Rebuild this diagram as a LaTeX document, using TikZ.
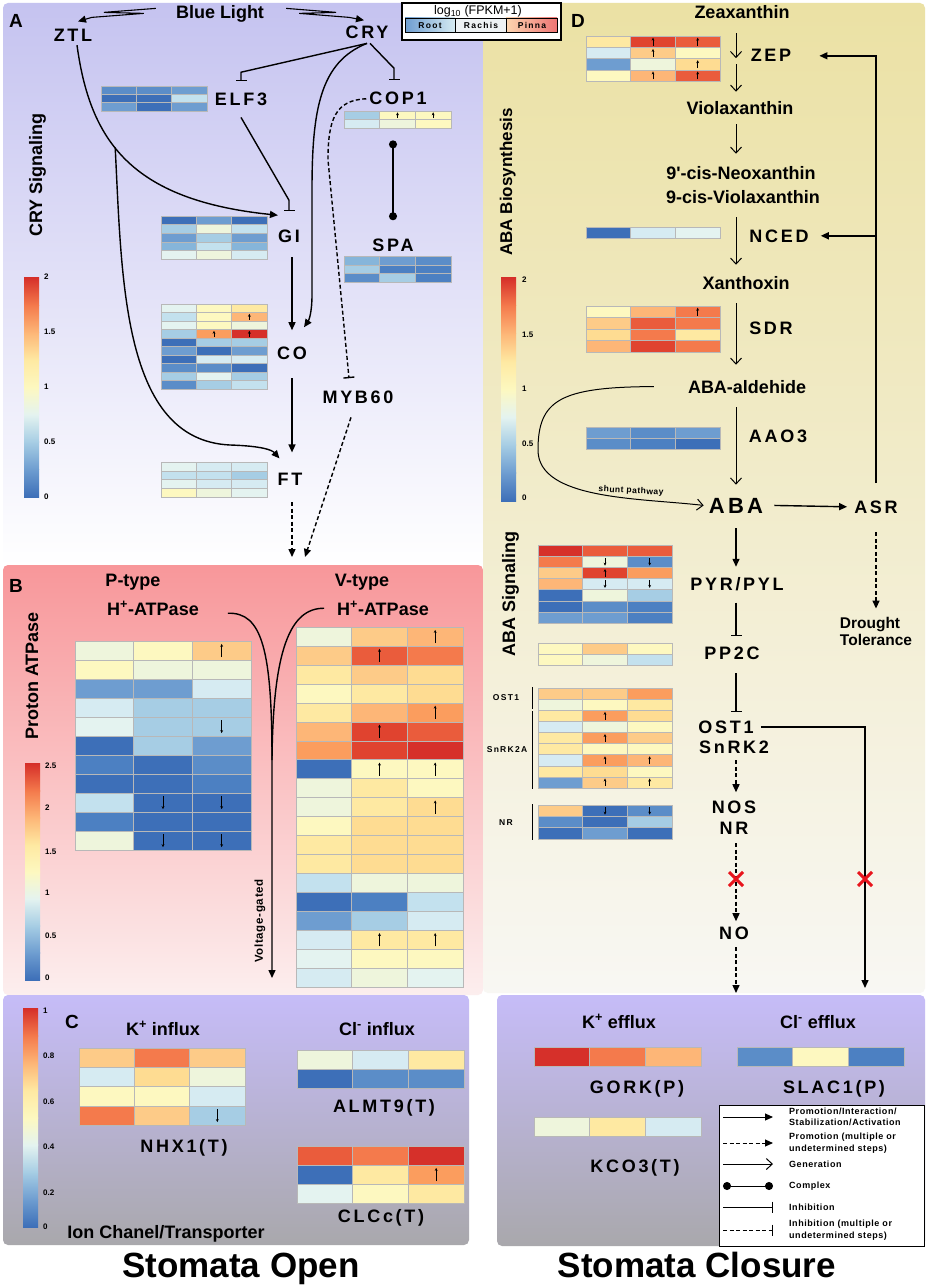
\documentclass[tikz,border=0pt]{standalone}
\usepackage{fontspec}
\setmainfont{Liberation Sans}
\newfontfamily\genefont[LetterSpace=15]{Liberation Sans}
\newfontfamily\smallfont[LetterSpace=6]{Liberation Sans}
\usetikzlibrary{arrows.meta}

% heatmap palette
\definecolor{bu9}{HTML}{3D6FB8}
\definecolor{bu8}{HTML}{4C80C2}
\definecolor{bu7}{HTML}{5B8DC8}
\definecolor{bu6}{HTML}{6E9DD0}
\definecolor{bu5}{HTML}{86B5DA}
\definecolor{bu4}{HTML}{A6CDE4}
\definecolor{bu3}{HTML}{C3E1EE}
\definecolor{bu2}{HTML}{D6EBF2}
\definecolor{bu1}{HTML}{E4F3F0}
\definecolor{pg}{HTML}{EEF5DC}
\definecolor{yl1}{HTML}{FDF8C0}
\definecolor{yl2}{HTML}{FEE9A2}
\definecolor{yl3}{HTML}{FEDC92}
\definecolor{or1}{HTML}{FDCB88}
\definecolor{or2}{HTML}{FDB677}
\definecolor{or3}{HTML}{FB9D5E}
\definecolor{or4}{HTML}{F47A4C}
\definecolor{rd1}{HTML}{EA5C3C}
\definecolor{rd2}{HTML}{E0432F}
\definecolor{rd3}{HTML}{D6302A}
% panel colours
\definecolor{lavA}{HTML}{C5C3F0}
\definecolor{pinkB}{HTML}{F8979A}
\definecolor{pinkBlow}{HTML}{FCEEEE}
\definecolor{yelD}{HTML}{EBE1A4}
\definecolor{yelDlow}{HTML}{F8F7F3}
\definecolor{lavC}{HTML}{C6BCF8}
\definecolor{grayC}{HTML}{A9A8AC}
\definecolor{gridgray}{HTML}{B8B8B8}
\definecolor{crossred}{HTML}{E8141C}
\definecolor{rachis}{HTML}{EEF2F4}
\definecolor{pinnal}{HTML}{FDD6B0}
\definecolor{pinnar}{HTML}{EE7474}

\tikzset{
  gene/.style={font=\genefont\bfseries\fontsize{18}{20}\selectfont, inner sep=0pt, anchor=base},
  txt/.style={font=\bfseries\fontsize{18}{20}\selectfont, inner sep=0pt, anchor=base},
  panelletter/.style={font=\bfseries\fontsize{19}{21}\selectfont, inner sep=0pt, anchor=base},
  ticktxt/.style={font=\bfseries\fontsize{8}{9}\selectfont, inner sep=0pt, anchor=west},
  keytxt/.style={font=\genefont\bfseries\fontsize{8.5}{9}\selectfont, inner sep=0pt, anchor=base},
  legtxt/.style={font=\smallfont\bfseries\fontsize{9}{11.5}\selectfont, inner sep=0pt, anchor=west, align=left},
  promo/.style={-{Triangle[length=8pt,width=7pt]}, line width=1.4pt},
  promodash/.style={promo, dash pattern=on 4pt off 2.5pt},
  gen/.style={-{Straight Barb[length=6pt,width=11pt]}, line width=1pt},
  inhib/.style={-{Bar[width=11pt]}, line width=1.4pt},
  inhibdash/.style={inhib, dash pattern=on 4pt off 2.5pt},
  complex/.style={{Circle[length=8pt]}-{Circle[length=8pt]}, line width=1.4pt},
  redx/.style={draw=crossred, line width=3pt},
  cellgrid/.style={draw=gridgray, line width=0.4pt},
  cellup/.style={-{Stealth[length=3pt,width=2.8pt]}, line width=0.6pt},
  celldn/.style={{Stealth[length=3pt,width=2.8pt]}-, line width=0.6pt},
}

% x, y, width, row height, rows of colour/mark
\newcommand{\heatmap}[5]{%
  \foreach \hrow [count=\i from 0] in {#5} {%
    \foreach \cellc/\cella [count=\j from 0] in \hrow {%
      \filldraw[cellgrid, fill=\cellc] ({#1+\j*#3/3},{#2+\i*#4}) rectangle ++({#3/3},{#4});
      \if u\cella \draw[cellup] ({#1+(\j+0.5)*#3/3},{#2+(\i+0.85)*#4}) -- ++(0,{-0.7*#4}); \fi
      \if d\cella \draw[celldn] ({#1+(\j+0.5)*#3/3},{#2+(\i+0.85)*#4}) -- ++(0,{-0.7*#4}); \fi
    }%
  }%
}
% x, y top, y bottom
\newcommand{\heatbar}[3]{%
  \foreach \ca/\cb [count=\k from 0] in {bu9/bu6,bu6/bu4,bu4/bu1,bu1/yl1,yl1/yl2,yl2/or2,or2/or4,or4/rd3} {%
    \shade[bottom color=\ca, top color=\cb] (#1,{#3-\k*(#3-#2)/8}) rectangle (#1+15,{#3-(\k+1)*(#3-#2)/8-0.3});
  }%
}

\begin{document}
\begin{tikzpicture}[x=1pt, y=-1pt]
	\useasboundingbox (0,0) rectangle (927,1287);
	\fill[white] (0,0) rectangle (927,1287);
	% panels
	\shade[top color=lavA, bottom color=white, rounded corners=5pt] (3,3) rectangle (483,566);
	\shade[top color=pinkB, bottom color=pinkBlow, rounded corners=5pt] (3,565) rectangle (483,995);
	\shade[top color=yelD, bottom color=yelDlow, rounded corners=5pt] (483,3) rectangle (925,993);
	\shade[top color=lavC, bottom color=grayC, rounded corners=5pt] (3,995) rectangle (469,1245);
	\shade[top color=lavC, bottom color=grayC, rounded corners=5pt] (497,995) rectangle (925,1246);

	% A: CRY signaling
	\node[panelletter] (lettera) at (16,28) {A};
	\node[txt] (bluelight) at (220,19) {Blue Light};
	\node[gene] (ztl) at (73,42) {ZTL};
	\node[gene] (cry) at (367,39) {CRY};
	\node[gene] (elf3) at (241,106) {ELF3};
	\node[gene] (cop1) at (398,105) {COP1};
	\node[gene] (gi) at (289,242) {GI};
	\node[gene] (spa) at (393,251) {SPA};
	\node[gene] (co) at (292,359) {CO};
	\node[gene] (myb60) at (358,403) {MYB60};
	\node[gene] (ft) at (290,485) {FT};
	\node[txt, rotate=90] (crysig) at (42,175) {CRY Signaling};
	\heatmap{101}{86}{106}{8.33}{{bu7/n,bu7/n,bu6/n},{bu9/n,bu9/n,bu3/n},{bu6/n,bu9/n,bu6/n}}
	\heatmap{161}{216}{106}{8.6}{{bu9/n,bu6/n,bu9/n},{bu4/n,pg/n,bu3/n},{bu6/n,bu4/n,bu6/n},{bu5/n,bu3/n,bu5/n},{bu1/n,pg/n,bu2/n}}
	\heatmap{344}{111}{107}{8.5}{{bu4/n,yl1/u,yl1/u},{bu2/n,pg/n,yl1/n}}
	\heatmap{344}{256}{107}{8.7}{{bu5/n,bu6/n,bu7/n},{bu4/n,bu8/n,bu8/n},{bu7/n,bu4/n,bu8/n}}
	\heatmap{161}{304}{106}{8.5}{{bu1/n,yl1/n,yl2/n},{bu3/n,yl1/n,or2/u},{bu1/n,yl1/n,pg/n},{bu4/n,or3/u,rd3/u},{bu9/n,bu4/n,bu4/n},{bu6/n,bu9/n,bu6/n},{bu9/n,bu2/n,bu2/n},{bu7/n,bu7/n,bu9/n},{bu4/n,bu1/n,bu4/n},{bu7/n,bu4/n,bu3/n}}
	\heatmap{161}{462}{106}{8.75}{{bu1/n,bu2/n,bu2/n},{bu3/n,bu3/n,bu4/n},{bu1/n,bu2/n,bu2/n},{yl1/n,pg/n,bu1/n}}
	\heatbar{24}{278}{497}
	\foreach \v/\yy [count=\k] in {2/277,1.5/332,1/387,0.5/442,0/497}
		\node[ticktxt] (tka\k) at (44,\yy) {\v};
	\draw[promo, line width=1.1pt] ([xshift=-20pt,yshift=6pt]bluelight.west) -- ++(-52,4) -- ++(40,1) -- ++(-52,4) -- ([xshift=5pt,yshift=8pt]ztl.north);
	\draw[promo, line width=1.1pt] ([xshift=22pt,yshift=6pt]bluelight.east) -- ++(50,4) -- ++(-37,1) -- ++(50,4) -- ([xshift=-3pt,yshift=6pt]cry.north);
	\draw[inhib] ([yshift=-4pt]cry.south) -- ([yshift=21pt]elf3.north) -- ([yshift=12pt]elf3.north);
	\draw[inhib] ([xshift=3pt,yshift=-4pt]cry.south) -- ([xshift=-4pt,yshift=24pt]cop1.north) -- ([xshift=-4pt,yshift=12pt]cop1.north);
	\draw[promo] ([yshift=-4pt]cry.south) .. controls (320,62) and (312,110) .. (312,190) -- (312,295) .. controls (312,312) and (309,320) .. ([xshift=12pt,yshift=19pt]co.north);
	\draw[promo] ([xshift=4pt,yshift=-3pt]ztl.south) .. controls (90,140) and (130,200) .. coordinate[pos=0.43] (ztlsplit) ([yshift=14pt]gi.north west);
	\draw[promo] (ztlsplit) .. controls (122,280) and (122,440) .. (230,445) .. controls (262,446) and (272,450) .. ([xshift=2pt,yshift=14pt]ft.north west);
	\draw[inhib] ([yshift=-11pt]elf3.south) -- ([yshift=29pt]gi.north) -- ([yshift=18pt]gi.north);
	\draw[promo, shorten <=15pt, shorten >=16pt] (co.north |- gi.south) -- (co.north);
	\draw[promo, shorten <=19pt, shorten >=20pt] (co.south) -- (co.south |- ft.north);
	\draw[complex, shorten <=35pt, shorten >=18pt] (spa.north |- cop1.south) -- (spa.north);
	\draw[inhibdash] ([xshift=-3pt]cop1.west) .. controls (335,100) and (328,120) .. (328,160) -- ([xshift=-9pt,yshift=12pt]myb60.north);
	\coordinate (ftend) at (292,557);
	\coordinate (mybend) at (305,557);
	\draw[promodash, shorten <=17pt] (co.south |- ft.south) -- (ftend);
	\draw[promodash] ([xshift=-7pt,yshift=-14pt]myb60.south) -- (mybend);

	% B: proton ATPase
	\node[panelletter] (letterb) at (16,592) {B};
	\node[txt] (ptype) at (133,586) {P-type};
	\node[txt] (ph) at (153,615) {H\textsuperscript{+}-ATPase};
	\node[txt] (vtype) at (362,586) {V-type};
	\node[txt] (vh) at (383,615) {H\textsuperscript{+}-ATPase};
	\node[txt, rotate=90] (protonatp) at (38,676) {Proton ATPase};
	\node[font=\smallfont\bfseries\fontsize{11.5}{12}\selectfont, inner sep=0pt, rotate=90] (voltage) at (260,921) {Voltage-gated};
	\heatmap{75}{641}{176}{19}{{pg/n,yl1/n,or1/u},{yl1/n,pg/n,pg/n},{bu6/n,bu6/n,bu2/n},{bu2/n,bu4/n,bu4/n},{bu1/n,bu4/n,bu4/d},{bu9/n,bu4/n,bu6/n},{bu8/n,bu9/n,bu7/n},{bu9/n,bu9/n,bu8/n},{bu3/n,bu9/d,bu9/d},{bu8/n,bu9/n,bu9/n},{pg/n,bu9/d,bu9/d}}
	\heatmap{296}{627}{167}{18.95}{{pg/n,or1/n,or2/u},{or1/n,rd1/u,or4/n},{yl2/n,or1/n,yl3/n},{yl1/n,yl2/n,yl3/n},{yl2/n,or2/n,or3/u},{or2/n,rd2/u,rd1/n},{or3/n,rd2/n,rd3/n},{bu9/n,yl1/u,yl1/u},{pg/n,yl2/n,yl1/n},{pg/n,yl2/n,yl3/u},{yl1/n,yl3/n,yl3/n},{yl2/n,yl3/n,yl3/n},{yl2/n,yl3/n,yl3/n},{bu3/n,pg/n,pg/n},{bu9/n,bu8/n,bu3/n},{bu6/n,bu4/n,bu2/n},{bu2/n,yl2/u,yl2/u},{bu1/n,yl1/n,yl1/n},{bu2/n,pg/n,bu1/n}}
	\heatbar{25}{764}{980}
	\foreach \v/\yy [count=\k] in {2.5/766,2/808,1.5/852,1/893,0.5/936,0/978}
		\node[ticktxt] (tkb\k) at (45,\yy) {\v};
	\coordinate (vgend) at (272,978);
	\draw[promo] ([xshift=29pt,yshift=-5pt]ph.east) .. controls (262,612) and (272,650) .. (272,760) -- (vgend);
	\draw[line width=1.4pt] ([xshift=-13pt]vh.west) .. controls (290,608) and (273,650) .. (272,760);

	% C: ion channels, stomata open
	\node[panelletter] (letterc) at (72,1028) {C};
	\node[txt] (kin) at (163,1035) {K\textsuperscript{+} influx};
	\node[txt] (clin) at (377,1035) {Cl\textsuperscript{-} influx};
	\node[gene] (nhx1) at (184,1152) {NHX1(T)};
	\node[gene] (almt9) at (384,1112) {ALMT9(T)};
	\node[gene] (clcc) at (381,1222) {CLCc(T)};
	\node[txt] (ionch) at (166,1238) {Ion Chanel/Transporter};
	\heatmap{79}{1048}{166}{19.25}{{or1/n,or4/n,or1/n},{bu2/n,yl3/n,pg/n},{yl1/n,yl1/n,bu2/n},{or4/n,or1/n,bu4/d}}
	\heatmap{297}{1050}{167}{19}{{pg/n,bu2/n,yl2/n},{bu9/n,bu7/n,bu7/n}}
	\heatmap{297}{1146}{167}{19}{{rd1/n,or4/n,rd3/n},{bu9/n,yl2/n,or3/u},{bu1/n,yl1/n,yl2/n}}
	\heatbar{23}{1009}{1227}
	\foreach \v/\yy [count=\k] in {1/1011,0.8/1056,0.6/1102,0.4/1147,0.2/1193,0/1227}
		\node[ticktxt] (tkc\k) at (43,\yy) {\v};
	\node[txt, font=\bfseries\fontsize{35}{40}\selectfont] (stopen) at (241,1277) {Stomata Open};

	% D: ABA biosynthesis and signaling
	\node[panelletter] (letterd) at (578,28) {D};
	\node[txt] (zea) at (742,19) {Zeaxanthin};
	\node[txt] (viola) at (740,115) {Violaxanthin};
	\node[txt] (neo) at (741,179) {9\textquotesingle-cis-Neoxanthin};
	\node[txt] (violb) at (743,203) {9-cis-Violaxanthin};
	\node[txt] (xanth) at (746,289) {Xanthoxin};
	\node[txt] (abaald) at (747,393) {ABA-aldehide};
	\node[gene] (zep) at (771,62) {ZEP};
	\node[gene] (nced) at (779,242) {NCED};
	\node[gene] (sdr) at (771,334) {SDR};
	\node[gene] (aao3) at (778,442) {AAO3};
	\node[gene, font=\genefont\bfseries\fontsize{22}{24}\selectfont] (aba) at (736,513) {ABA};
	\node[gene] (asr) at (876,513) {ASR};
	\node[txt, font=\bfseries\fontsize{15.5}{17}\selectfont] (drought) at (870,628) {Drought};
	\node[txt, font=\bfseries\fontsize{15.5}{17}\selectfont] (toler) at (876,645) {Tolerance};
	\node[gene] (pyr) at (737,590) {PYR/PYL};
	\node[gene] (pp2c) at (732,659) {PP2C};
	\node[gene] (ost1) at (726,733) {OST1};
	\node[gene] (snrk2) at (734,753) {SnRK2};
	\node[gene] (nos) at (734,813) {NOS};
	\node[gene] (nr) at (734,834) {NR};
	\node[gene] (no) at (734,939) {NO};
	\node[txt, rotate=90, font=\bfseries\fontsize{17}{19}\selectfont] (ababio) at (512,182) {ABA Biosynthesis};
	\node[txt, rotate=90] (abasig) at (515,594) {ABA Signaling};
	\node[font=\smallfont\bfseries\fontsize{8.5}{9}\selectfont, inner sep=0pt, rotate=-3] (shunt) at (631,491) {shunt pathway};
	\node[keytxt] (kost1) at (506,700) {OST1};
	\node[keytxt] (ksnrk) at (507,752) {SnRK2A};
	\node[keytxt] (knr) at (506,825) {NR};
	\heatmap{586}{36}{134}{11.25}{{yl2/n,rd2/u,rd1/u},{bu2/n,or1/u,yl1/n},{bu6/n,pg/n,yl3/u},{yl1/n,or2/u,rd1/u}}
	\heatmap{586}{227}{134}{11}{{bu9/n,bu2/n,bu1/n}}
	\heatmap{586}{306}{134}{11.5}{{yl1/n,or2/n,or4/u},{or1/n,rd1/n,or4/n},{yl3/n,or4/n,yl2/n},{or2/n,rd2/n,or4/n}}
	\heatmap{586}{427}{134}{11}{{bu6/n,bu7/n,bu6/n},{bu7/n,bu8/n,bu9/n}}
	\heatmap{538}{545}{134}{11.14}{{rd3/n,rd1/n,rd1/n},{or4/n,pg/d,bu7/d},{or1/n,rd2/u,or3/n},{or2/n,bu2/d,bu2/d},{bu9/n,pg/n,bu4/n},{bu9/n,bu7/n,bu8/n},{bu6/n,bu6/n,bu8/n}}
	\heatmap{538}{643}{134}{11}{{yl1/n,or1/n,yl1/n},{yl1/n,pg/n,bu3/n}}
	\heatmap{538}{688}{134}{11.1}{{or1/n,or1/n,or3/n},{pg/n,yl1/n,yl2/n},{yl2/n,or3/u,yl3/n},{bu2/n,pg/n,yl1/n},{yl2/n,or3/u,or1/n},{yl2/n,yl1/n,yl1/n},{bu2/n,or3/u,or2/u},{yl2/n,yl3/n,yl1/n},{bu6/n,or1/u,yl2/u}}
	\heatmap{538}{805}{134}{11.33}{{or1/n,bu9/d,bu7/d},{bu7/n,bu9/n,bu4/n},{bu9/n,bu6/n,bu9/n}}
	\draw[line width=1pt] (532,687) -- (532,709);
	\draw[line width=1pt] (532,711) -- (532,789);
	\draw[line width=1pt] (532,804) -- (532,840);
	\heatbar{501}{278}{501}
	\foreach \v/\yy [count=\k] in {2/280,1.5/335,1/389,0.5/444,0/498}
		\node[ticktxt] (tkd\k) at (522,\yy) {\v};
	\coordinate (axisd) at (736,0);
	\coordinate (noend) at (736,993);
	\coordinate (ostend) at (865,988);
	\draw[gen, shorten <=14pt, shorten >=4pt] (axisd |- zea.south) -- (axisd |- zep.south);
	\draw[gen, shorten <=2pt, shorten >=10pt] (axisd |- zep.south) -- (axisd |- viola.north);
	\draw[gen, shorten <=9pt, shorten >=12pt] (axisd |- viola.south) -- (axisd |- neo.north);
	\draw[gen, shorten <=14pt, shorten >=11pt] (axisd |- violb.south) -- (axisd |- xanth.north);
	\draw[gen, shorten <=14pt, shorten >=15pt] (axisd |- xanth.south) -- (axisd |- abaald.north);
	\draw[gen, shorten <=14pt, shorten >=13pt] (axisd |- abaald.south) -- (axisd |- aba.north);
	\draw[gen] ([xshift=-34pt]abaald.west) .. controls (560,387) and (538,400) .. (538,450) .. controls (538,500) and (640,498) .. ([xshift=-5pt]aba.west);
	\draw[promo] ([xshift=11pt]aba.east) -- ([xshift=-7pt]asr.west);
	\draw[promo] ([yshift=17pt]asr.north) -- (asr.north |- zep.east) -- ([xshift=28pt]zep.east);
	\draw[promo] (asr.north |- nced.east) -- ([xshift=12pt]nced.east);
	\draw[promodash, shorten <=19pt, shorten >=8pt] (asr.south) -- (asr.south |- drought.north);
	\draw[promo, shorten <=15pt, shorten >=10pt] (axisd |- aba.south) -- (axisd |- pyr.north);
	\draw[inhib, shorten <=12pt, shorten >=10pt] (axisd |- pyr.south) -- (axisd |- pp2c.north);
	\draw[inhib, shorten <=14pt, shorten >=8pt] (axisd |- pp2c.south) -- (axisd |- ost1.north);
	\draw[promodash, shorten <=7pt, shorten >=8pt] (axisd |- snrk2.south) -- (axisd |- nos.north);
	\draw[promodash, shorten <=9pt, shorten >=5pt] (axisd |- nr.south) -- (axisd |- no.north);
	\draw[promodash, shorten <=8pt] (axisd |- no.south) -- (noend);
	\draw[promo] ([xshift=7pt]ost1.east) -| (ostend);
	\coordinate (xa) at (736,879);
	\coordinate (xb) at (865,879);
	\draw[redx] (xa) +(-7,-7) -- +(7,7) (xa) +(-7,7) -- +(7,-7);
	\draw[redx] (xb) +(-7,-7) -- +(7,7) (xb) +(-7,7) -- +(7,-7);

	% stomata closure
	\node[txt] (kef) at (619,1028) {K\textsuperscript{+} efflux};
	\node[txt] (clef) at (818,1028) {Cl\textsuperscript{-} efflux};
	\node[gene] (gork) at (637,1093) {GORK(P)};
	\node[gene] (slac1) at (834,1093) {SLAC1(P)};
	\node[gene] (kco3) at (635,1172) {KCO3(T)};
	\heatmap{534}{1047}{167}{19}{{rd3/n,or4/n,or2/n}}
	\heatmap{534}{1117}{167}{19}{{pg/n,yl2/n,bu2/n}}
	\heatmap{737}{1047}{167}{19}{{bu7/n,yl1/n,bu8/n}}
	\node[txt, font=\bfseries\fontsize{35}{40}\selectfont] (stclose) at (697,1277) {Stomata Closure};

	% key of connectors
	\draw[line width=1pt, fill=white] (719,1105) rectangle (924,1246);
	\node[legtxt] (lg1) at (789,1117) {Promotion/Interaction/\\Stabilization/Activation};
	\node[legtxt] (lg2) at (789,1143) {Promotion (multiple or\\undetermined steps)};
	\node[legtxt] (lg3) at (789,1164) {Generation};
	\node[legtxt] (lg4) at (789,1186) {Complex};
	\node[legtxt] (lg5) at (789,1207) {Inhibition};
	\node[legtxt] (lg6) at (789,1230) {Inhibition (multiple or\\undetermined steps)};
	\draw[promo, line width=1pt] ([xshift=-66pt]lg1.west) -- ([xshift=-16pt]lg1.west);
	\draw[promodash, line width=1pt] ([xshift=-66pt]lg2.west) -- ([xshift=-16pt]lg2.west);
	\draw[gen] ([xshift=-66pt]lg3.west) -- ([xshift=-16pt]lg3.west);
	\draw[complex, line width=1pt] ([xshift=-66pt]lg4.west) -- ([xshift=-16pt]lg4.west);
	\draw[inhib, line width=1pt] ([xshift=-66pt]lg5.west) -- ([xshift=-16pt]lg5.west);
	\draw[inhibdash, line width=1pt] ([xshift=-66pt]lg6.west) -- ([xshift=-16pt]lg6.west);

	% key of tissues
	\draw[line width=1.2pt, fill=white] (402,3) rectangle (561,40);
	\node[font=\fontsize{12.5}{14}\selectfont, inner sep=0pt, anchor=base] (logtitle) at (478,15) {log\textsubscript{10} (FPKM+1)};
	\shade[left color=bu6, right color=bu2] (405,18) rectangle (455,32);
	\fill[rachis] (455,18) rectangle (506,32);
	\shade[left color=pinnal, right color=pinnar] (506,18) rectangle (557,32);
	\draw[line width=0.6pt] (405,18) rectangle (557,32) (455,18) -- (455,32) (506,18) -- (506,32);
	\node[keytxt] (kroot) at (430,29) {Root};
	\node[keytxt] (krachis) at (481,29) {Rachis};
	\node[keytxt] (kpinna) at (532,29) {Pinna};
\end{tikzpicture}
\end{document}
